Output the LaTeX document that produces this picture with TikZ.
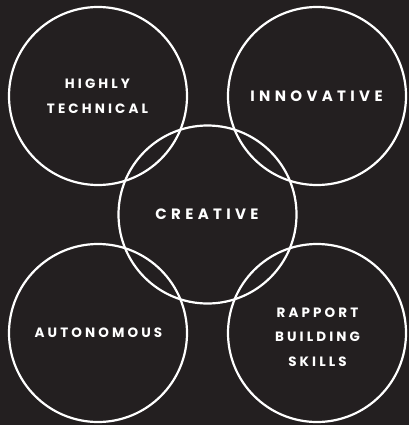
\documentclass[tikz,border=0pt]{standalone}
\usepackage{fontspec}
\newfontfamily\lblfont[LetterSpace=23]{Poppins}
\newfontfamily\biglblfont[LetterSpace=29]{Poppins}
\definecolor{bg}{HTML}{231F20}
\tikzset{
  ring/.style={circle, draw=white, line width=2.2pt, minimum size=178pt, inner sep=0pt},
  lbl/.style={text=white, font=\lblfont\bfseries\fontsize{13.5}{24.5}\selectfont, align=center},
  biglbl/.style={text=white, font=\biglblfont\bfseries\fontsize{15}{25}\selectfont, align=center}
}
\begin{document}
\begin{tikzpicture}[x=1pt,y=-1pt]
\fill[bg] (0,0) rectangle (409,425);
\useasboundingbox (0,0) rectangle (409,425);
\node[ring] (tl) at (98,96) {};
\node[ring] (tr) at (317,96) {};
\node[ring] (bl) at (98,333) {};
\node[ring] (br) at (317,333) {};
\node[ring] (c) at (207.5,214.5) {};
\node[lbl] (tltext) at (97.5,96) {HIGHLY\\TECHNICAL};
\node[biglbl] (trtext) at (316.5,96) {INNOVATIVE};
\node[biglbl] (ctext) at (207,214.5) {CREATIVE};
\node[lbl] (bltext) at (98.5,333) {AUTONOMOUS};
\node[lbl] (brtext) at (317.5,337) {RAPPORT\\BUILDING\\SKILLS};
\end{tikzpicture}
\end{document}
